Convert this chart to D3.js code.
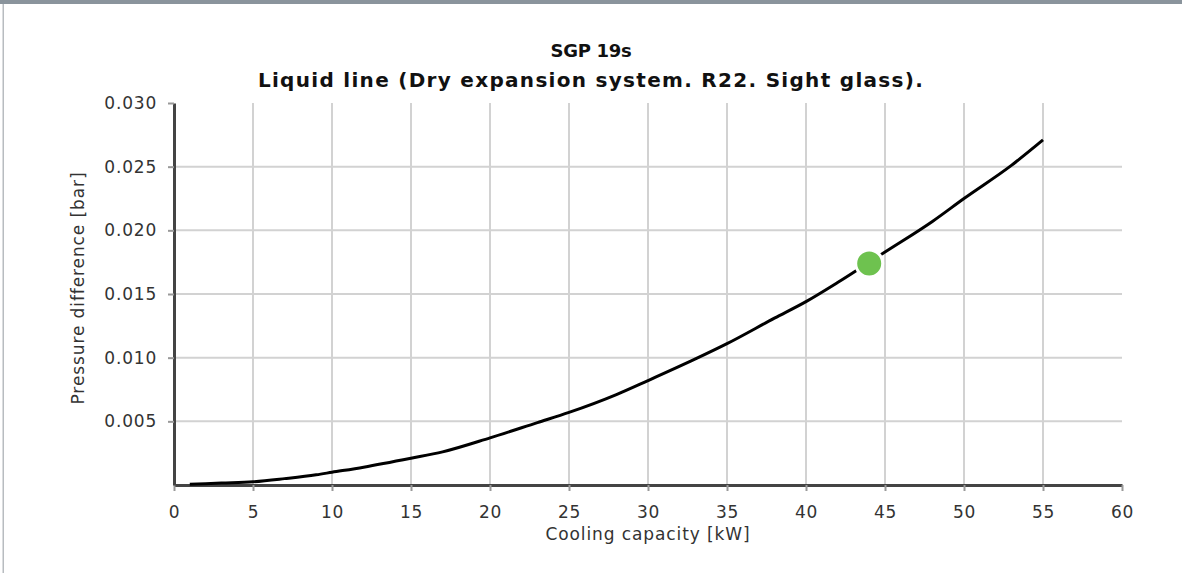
<!DOCTYPE html>
<html><head><meta charset="utf-8">
<script src="https://cdn.jsdelivr.net/npm/d3@7"></script>
<style>
html,body{margin:0;padding:0;background:#fff;}
svg{display:block;font-family:"DejaVu Sans",Verdana,sans-serif;}
</style></head>
<body><svg id="c" width="1182" height="573"></svg>
<script>
const titleLines = ["SGP 19s", "Liquid line (Dry expansion system. R22. Sight glass)."];
const xLabel = "Cooling capacity [kW]";
const yLabel = "Pressure difference [bar]";
const xTicks = [0,5,10,15,20,25,30,35,40,45,50,55,60];
const yTicks = [0.005,0.010,0.015,0.020,0.025,0.030];
const capacity = [1,3,5,7,9,10,12,15,17,20,23,25,28,30,33,35,38,40,42,45,48,50,53,55];
const pressure = [0.00005,0.00015,0.00025,0.0005,0.0008,0.0010,0.0014,0.0021,0.0026,0.0037,0.0049,0.0057,0.0071,0.0082,0.0099,0.0111,0.0131,0.0144,0.0159,0.0183,0.0207,0.0225,0.0251,0.0271];
const pointX = [44];
const pointY = [0.0174];

const svg = d3.select("#c");
const W = 1182, H = 573;
const m = {left:174, right:60, top:103, bottom:88};
const x = d3.scaleLinear().domain([0,60]).range([m.left, W - m.right]);
const y = d3.scaleLinear().domain([0,0.030]).range([H - m.bottom, m.top]);

// frame
svg.append("rect").attr("x",0).attr("y",0).attr("width",W).attr("height",4).attr("fill","#8a949c");
svg.append("rect").attr("x",2.5).attr("y",4).attr("width",1.5).attr("height",H-4).attr("fill","#b8bcc0");

// grid
const g = svg.append("g");
g.selectAll("line.vg").data(xTicks.filter(d => d > 0 && d < 60)).join("line")
  .attr("x1", d => x(d)).attr("x2", d => x(d))
  .attr("y1", y(0)).attr("y2", y(0.030))
  .attr("stroke","#d2d2d2").attr("stroke-width",2);
g.selectAll("line.hg").data(yTicks.filter(d => d < 0.030)).join("line")
  .attr("y1", d => y(d)).attr("y2", d => y(d))
  .attr("x1", x(0)).attr("x2", x(60))
  .attr("stroke","#d2d2d2").attr("stroke-width",2);

// axes
const xAxis = d3.axisBottom(x).tickValues(xTicks).tickFormat(d3.format("d")).tickSize(6).tickPadding(10).tickSizeOuter(0);
const yAxis = d3.axisLeft(y).tickValues(yTicks).tickFormat(d3.format(".3f")).tickSize(6).tickPadding(11).tickSizeOuter(0);
const gx = svg.append("g").attr("transform",`translate(0,${y(0)})`).call(xAxis);
const gy = svg.append("g").attr("transform",`translate(${x(0)},0)`).call(yAxis);
[gx, gy].forEach(a => {
  a.select(".domain").attr("stroke","#444").attr("stroke-width",3);
  a.selectAll(".tick line").attr("stroke","#999").attr("stroke-width",2);
  a.selectAll(".tick text").attr("fill","#333").style("font-size","17px").style("letter-spacing","0.8px")
    .style("font-family","'DejaVu Sans',Verdana,sans-serif");
});
gx.selectAll(".tick text").attr("dy","1em");

// line
const line = d3.line().x((d,i) => x(capacity[i])).y((d,i) => y(pressure[i])).curve(d3.curveMonotoneX);
svg.append("path").datum(pressure).attr("d", line)
  .attr("fill","none").attr("stroke","#000").attr("stroke-width",3);

// point
svg.selectAll("circle.pt").data(pointX).join("circle")
  .attr("cx", (d) => x(d)).attr("cy", (d,i) => y(pointY[i])).attr("r", 13.5)
  .attr("fill","#6ec24f").attr("stroke","#fff").attr("stroke-width",3);

// titles
svg.selectAll("text.title").data(titleLines).join("text")
  .attr("x", W/2).attr("y", (d,i) => 57 + i*30)
  .attr("text-anchor","middle").attr("font-weight","bold")
  .attr("font-size", (d,i) => i === 0 ? "18px" : "20px")
  .style("letter-spacing", (d,i) => i === 0 ? "-0.3px" : "1.3px")
  .attr("fill","#111")
  .text(d => d);

svg.append("text").attr("x", x(30)).attr("y", 540).attr("text-anchor","middle")
  .attr("font-size","17px").style("letter-spacing","0.9px").attr("fill","#333").text(xLabel);
svg.append("text").attr("transform",`translate(84,288) rotate(-90)`)
  .attr("text-anchor","middle").attr("font-size","17px").style("letter-spacing","0.9px").attr("fill","#333").text(yLabel);
</script></body></html>
